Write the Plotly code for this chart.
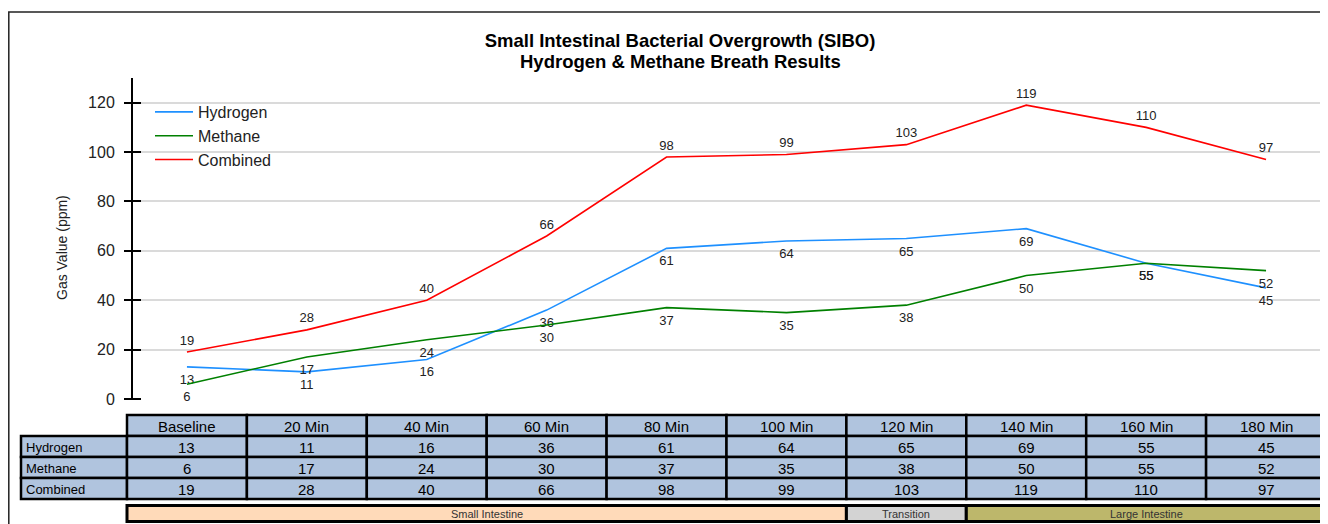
import plotly.graph_objects as go

# ---------------- data ----------------
categories = ["Baseline", "20 Min", "40 Min", "60 Min", "80 Min",
              "100 Min", "120 Min", "140 Min", "160 Min", "180 Min"]
hydrogen = [13, 11, 16, 36, 61, 64, 65, 69, 55, 45]
methane = [6, 17, 24, 30, 37, 35, 38, 50, 55, 52]
combined = [19, 28, 40, 66, 98, 99, 103, 119, 110, 97]
series_names = ["Hydrogen", "Methane", "Combined"]
y_ticks = [0, 20, 40, 60, 80, 100, 120]
regions = ["Small Intestine", "Transition", "Large Intestine"]
region_first = [0, 6, 7]   # first category index of each region
region_last = [5, 6, 9]    # last category index of each region
title_lines = ["Small Intestinal Bacterial Overgrowth (SIBO)", "Hydrogen & Methane Breath Results"]

# ---------------- layout geometry ----------------
# the page body adds an 8px margin, so the figure starts at screen (8, 8)
OFF = 8
W, H = 1320, 516
L, R, T, B = 119, 2, 70, 125
PW, PH = W - L - R, H - T - B


def px(sx):
    """screen x pixel -> paper x"""
    return (sx - OFF - L) / PW


def py(sy):
    """screen y pixel -> paper y"""
    return (T + PH - (sy - OFF)) / PH


FONT = "Liberation Sans, Arial, sans-serif"
colors = {"Hydrogen": "#1E90FF", "Methane": "#008000", "Combined": "#FF0000"}
positions = {"Hydrogen": "bottom center", "Methane": "bottom center", "Combined": "top center"}
label_pad = {"Hydrogen": 10, "Methane": 10, "Combined": 5}
values = {"Hydrogen": hydrogen, "Methane": methane, "Combined": combined}

fig = go.Figure()
for name in series_names:
    fig.add_trace(go.Scatter(
        x=categories, y=values[name], name=name, mode="lines+markers+text",
        text=[str(v) for v in values[name]], textposition=positions[name],
        textfont=dict(family=FONT, size=13, color="#222222"),
        line=dict(color=colors[name], width=1.6),
        marker=dict(size=label_pad[name], color="rgba(0,0,0,0)", line=dict(width=0)),
        cliponaxis=False,
    ))

shapes = []
annotations = []

# y axis line
shapes.append(dict(type="line", xref="paper", yref="paper", x0=px(132), x1=px(132),
                   y0=0, y1=1, line=dict(color="black", width=2)))

# outer border
shapes.append(dict(type="rect", xref="paper", yref="paper", x0=px(8.8), x1=px(1345),
                   y0=py(540), y1=py(12), line=dict(color="#222222", width=1.5)))

n = len(categories)
cell_fill = "#B0C4DE"
row_edges = [415, 436, 457, 478, 499]

# header row
for i, c in enumerate(categories):
    shapes.append(dict(type="rect", xref="paper", yref="paper", x0=i / n, x1=(i + 1) / n,
                       y0=py(row_edges[1]), y1=py(row_edges[0]), fillcolor=cell_fill,
                       line=dict(color="black", width=2.5), layer="below"))
    annotations.append(dict(xref="paper", yref="paper", x=(i + 0.5) / n,
                            y=py((row_edges[0] + row_edges[1]) / 2 + 1), text=c, showarrow=False,
                            font=dict(family=FONT, size=15, color="black"),
                            xanchor="center", yanchor="middle"))

# data rows
for r, name in enumerate(series_names):
    y0, y1 = py(row_edges[r + 2]), py(row_edges[r + 1])
    ym = py((row_edges[r + 1] + row_edges[r + 2]) / 2 + 1)
    shapes.append(dict(type="rect", xref="paper", yref="paper", x0=px(21), x1=0,
                       y0=y0, y1=y1, fillcolor=cell_fill,
                       line=dict(color="black", width=2.5), layer="below"))
    annotations.append(dict(xref="paper", yref="paper", x=px(24), y=ym, text=name,
                            showarrow=False, xanchor="left", yanchor="middle",
                            font=dict(family=FONT, size=13, color="black")))
    for i, v in enumerate(values[name]):
        shapes.append(dict(type="rect", xref="paper", yref="paper", x0=i / n, x1=(i + 1) / n,
                           y0=y0, y1=y1, fillcolor=cell_fill,
                           line=dict(color="black", width=2.5), layer="below"))
        annotations.append(dict(xref="paper", yref="paper", x=(i + 0.5) / n, y=ym,
                                text=str(v), showarrow=False, xanchor="center", yanchor="middle",
                                font=dict(family=FONT, size=15, color="black")))

# region bar
region_colors = ["#FFDAB9", "#D3D3D3", "#BDB76B"]
for k, reg in enumerate(regions):
    x0 = region_first[k] / n
    x1 = (region_last[k] + 1) / n
    shapes.append(dict(type="rect", xref="paper", yref="paper", x0=x0, x1=x1,
                       y0=py(521.5), y1=py(505.5), fillcolor=region_colors[k],
                       line=dict(color="black", width=3), layer="below"))
    annotations.append(dict(xref="paper", yref="paper", x=(x0 + x1) / 2, y=py(514),
                            text=reg, showarrow=False, xanchor="center", yanchor="middle",
                            font=dict(family=FONT, size=11, color="#333333")))

# y axis title
annotations.append(dict(xref="paper", yref="paper", x=px(62), y=py(248), text="Gas Value (ppm)",
                        textangle=-90, showarrow=False, xanchor="center", yanchor="middle",
                        font=dict(family=FONT, size=14, color="#222222")))

# second title line
annotations.append(dict(xref="paper", yref="paper", x=px(680), y=py(61), text="<b>" + title_lines[1] + "</b>",
                        showarrow=False, xanchor="center", yanchor="middle",
                        font=dict(family=FONT, size=18.5, color="black")))

fig.update_layout(
    width=W, height=H,
    margin=dict(l=L, r=R, t=T, b=B),
    paper_bgcolor="white", plot_bgcolor="white",
    font=dict(family=FONT, color="#222222"),
    title=dict(
        text="<b>" + title_lines[0] + "</b>",
        x=px(680), xref="paper", xanchor="center",
        y=(H - (41 - OFF)) / H, yref="container", yanchor="middle",
        font=dict(family=FONT, size=18.5, color="black"),
    ),
    xaxis=dict(range=[-0.5, n - 0.5], showticklabels=False, showgrid=False,
               zeroline=False, showline=False, ticks=""),
    yaxis=dict(range=[0, 130], tickvals=y_ticks, anchor="free", position=px(141),
               ticks="outside", ticklen=17, tickwidth=2, tickcolor="black",
               ticklabelstandoff=6,
               showline=False, showgrid=True, gridcolor="#DADADA", gridwidth=1.5,
               zeroline=False, tickfont=dict(family=FONT, size=16, color="#222222")),
    legend=dict(x=px(150), y=py(95), xanchor="left", yanchor="top",
                bgcolor="rgba(0,0,0,0)", itemwidth=38,
                font=dict(family=FONT, size=16, color="#222222")),
    shapes=shapes,
    annotations=annotations,
)

fig.write_html("out.html")
